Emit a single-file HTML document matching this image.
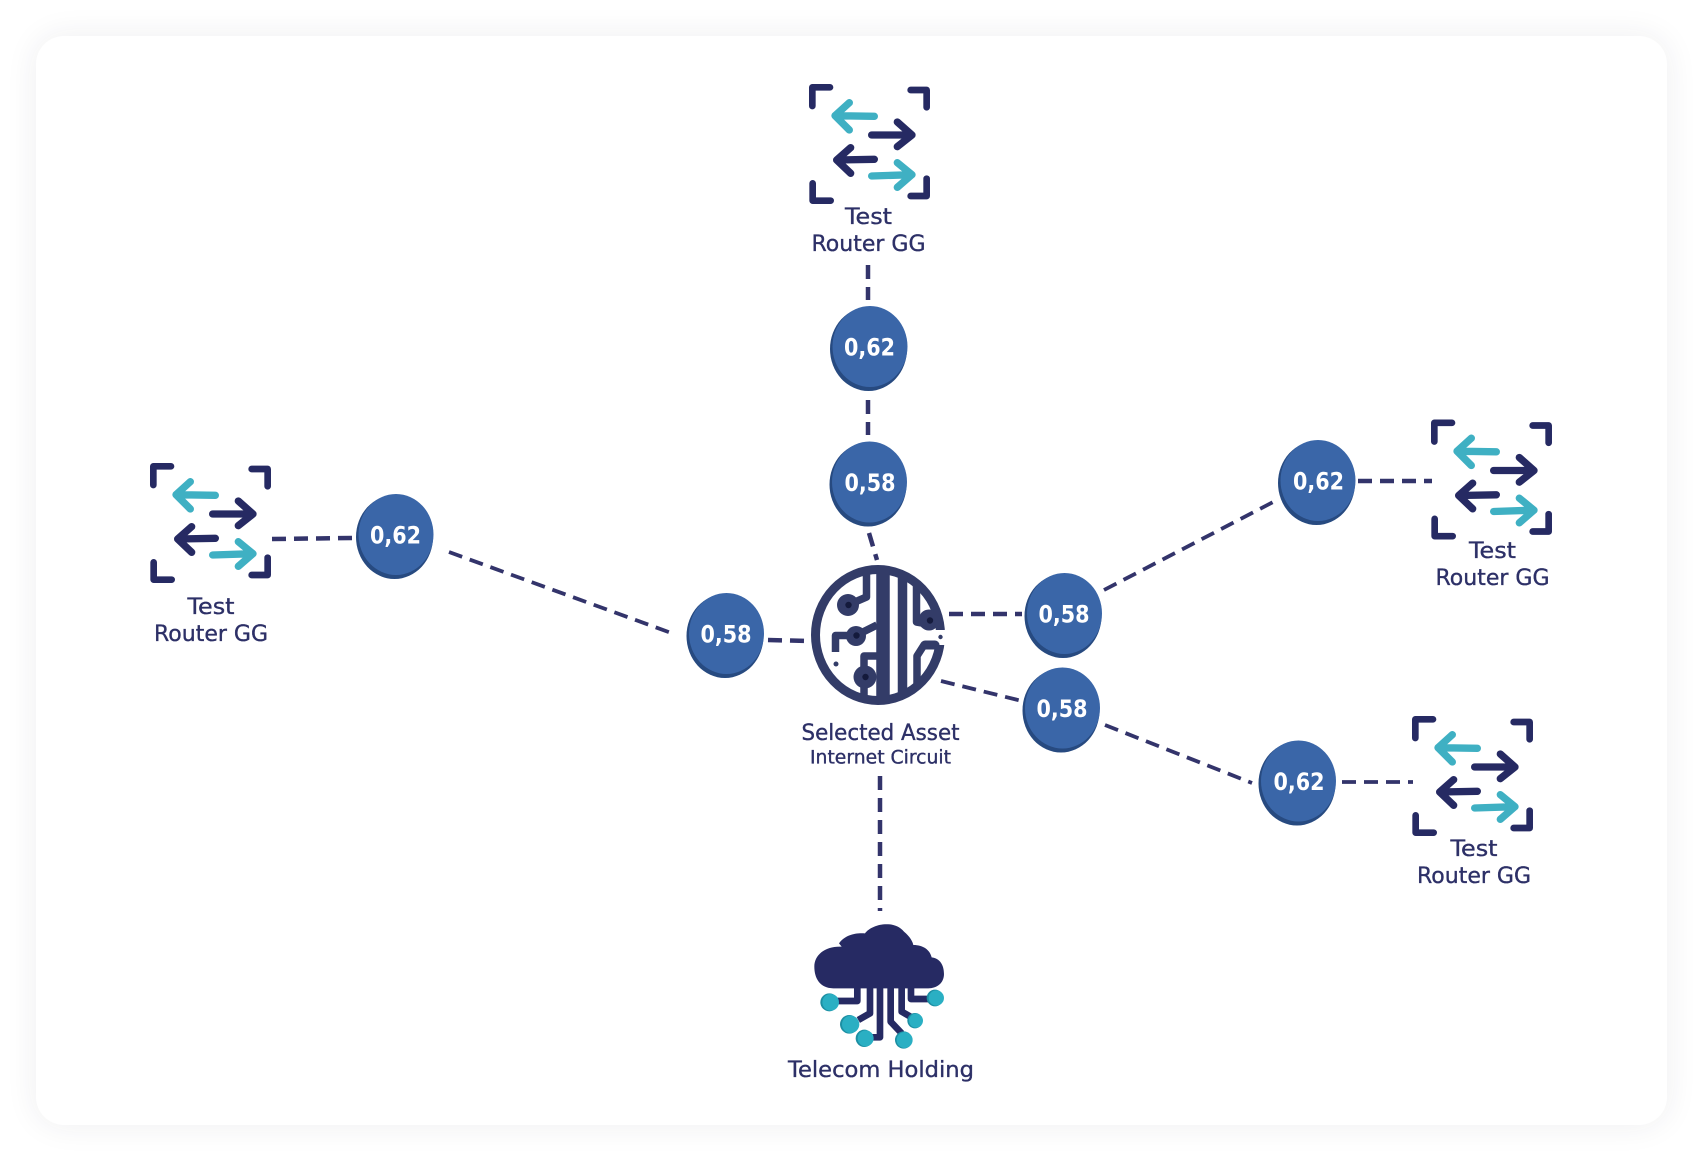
<!DOCTYPE html>
<html><head><meta charset="utf-8">
<style>
html,body{margin:0;padding:0;background:#fff}
body{width:1704px;height:1162px;position:relative;overflow:hidden}
#card{position:absolute;left:36px;top:36px;width:1631px;height:1089px;background:#fff;border-radius:28px;box-shadow:0 0 32px rgba(40,40,70,.08)}
svg{position:absolute;left:0;top:0}
text{font-family:"DejaVu Sans","Liberation Sans",sans-serif}
.lb{fill:#2d3067;font-size:22px;text-anchor:middle;stroke:#2d3067;stroke-width:.35}
.v{fill:#fff;font-size:24px;font-weight:bold;text-anchor:middle}
.d{stroke:#33346b;stroke-width:4.5;stroke-dasharray:14 8;fill:none}
.t{stroke-width:3.8}
</style></head><body>
<div id="card"></div>
<svg width="1704" height="1162" viewBox="0 0 1704 1162">
<defs>
<g id="router" fill="none" stroke-linecap="round" stroke-linejoin="round" transform="translate(780 60) scale(.3333)">
<g stroke="#262a63" stroke-width="20">
<path d="M97 138V82H150M392 90H440V142M98 370V422H152M392 408H440V356"/>
<path stroke-width="22" d="M275 225H395M352 186L396 225L352 260M283 298L170 300M212 263L170 300L212 340"/>
</g>
<g stroke="#3fb0c3" stroke-width="22">
<path d="M283 169L165 167M208 128L165 167L208 210M275 348L395 344M352 308L396 344L352 382"/>
</g>
</g>
<g id="node">
<ellipse cx="-1" cy="1.5" rx="38.5" ry="42" fill="#274a80"/>
<ellipse cx=".5" cy="-1" rx="37.5" ry="40.5" fill="#3a66a8"/>
</g>
</defs>

<path class="d" d="M868 265V300"/>
<path class="d" d="M868 400V435"/>
<path class="d" d="M869 533L877 560"/>
<path class="d" d="M272 539L353 538"/>
<path class="d t" d="M449 552L674 634"/>
<path class="d" d="M768 640L810 641"/>
<path class="d" d="M949 614H1022"/>
<path class="d t" d="M1104 590L1277 500"/>
<path class="d" d="M1358 481H1432"/>
<path class="d t" d="M941 681L1022 701"/>
<path class="d t" d="M1105 725L1252 783"/>
<path class="d t" d="M1342 782H1413"/>
<path class="d" d="M880 776V911"/>

<use href="#router"/>
<use href="#router" x="-659" y="379"/>
<use href="#router" x="622" y="335.5"/>
<use href="#router" x="603" y="632"/>

<g>
<text class="lb" x="868.5" y="224" textLength="47" lengthAdjust="spacingAndGlyphs">Test</text>
<text class="lb" x="868.5" y="251" textLength="114" lengthAdjust="spacingAndGlyphs">Router GG</text>
<text class="lb" x="211" y="614" textLength="47" lengthAdjust="spacingAndGlyphs">Test</text>
<text class="lb" x="211" y="641" textLength="114" lengthAdjust="spacingAndGlyphs">Router GG</text>
<text class="lb" x="1492.5" y="558" textLength="47" lengthAdjust="spacingAndGlyphs">Test</text>
<text class="lb" x="1492.5" y="585" textLength="114" lengthAdjust="spacingAndGlyphs">Router GG</text>
<text class="lb" x="1474" y="856" textLength="47" lengthAdjust="spacingAndGlyphs">Test</text>
<text class="lb" x="1474" y="883" textLength="114" lengthAdjust="spacingAndGlyphs">Router GG</text>
<text class="lb" x="880.5" y="740" textLength="158" lengthAdjust="spacingAndGlyphs">Selected Asset</text>
<text class="lb" style="font-size:18.5px" x="880.5" y="763.5" textLength="141" lengthAdjust="spacingAndGlyphs">Internet Circuit</text>
<text class="lb" x="881" y="1077" textLength="186" lengthAdjust="spacingAndGlyphs">Telecom Holding</text>
</g>

<g transform="translate(869.5 347.5)"><use href="#node"/><text class="v" x="0" y="8" textLength="51" lengthAdjust="spacingAndGlyphs">0,62</text></g>
<g transform="translate(869 483)"><use href="#node"/><text class="v" x="1" y="8" textLength="51" lengthAdjust="spacingAndGlyphs">0,58</text></g>
<g transform="translate(1317.5 481.5)"><use href="#node"/><text class="v" x="1" y="8" textLength="51" lengthAdjust="spacingAndGlyphs">0,62</text></g>
<g transform="translate(395.5 535.5)"><use href="#node"/><text class="v" x="0" y="8" textLength="51" lengthAdjust="spacingAndGlyphs">0,62</text></g>
<g transform="translate(726 634.5)"><use href="#node"/><text class="v" x="0" y="8" textLength="51" lengthAdjust="spacingAndGlyphs">0,58</text></g>
<g transform="translate(1064 614.5)"><use href="#node"/><text class="v" x="0" y="8" textLength="51" lengthAdjust="spacingAndGlyphs">0,58</text></g>
<g transform="translate(1062 709)"><use href="#node"/><text class="v" x="0" y="8" textLength="51" lengthAdjust="spacingAndGlyphs">0,58</text></g>
<g transform="translate(1298 782)"><use href="#node"/><text class="v" x="1" y="8" textLength="51" lengthAdjust="spacingAndGlyphs">0,62</text></g>

<!-- circuit -->
<g fill="none" stroke="#333c68" stroke-linejoin="round">
<ellipse cx="878" cy="635" rx="62.5" ry="65.5" stroke-width="9"/>
<rect x="933" y="630" width="18" height="15" fill="#fff" stroke="none"/>
<path stroke-width="13.5" d="M883 568V702"/>
<path stroke-width="9.5" d="M902.5 574V696"/>
<path stroke-width="7.5" d="M866.5 572V597L848 605M877 625L856 635.5H835.5V652M880 656H864V696M916.5 586V622L928 624M930 645H924L917 656V688"/>
<path stroke-width="9" stroke-linecap="round" d="M925 645H935"/>
<circle cx="848" cy="605" r="11" fill="#333c68" stroke="none"/>
<circle cx="856" cy="636" r="10" fill="#333c68" stroke="none"/>
<circle cx="865" cy="677" r="11.5" fill="#333c68" stroke="none"/>
<circle cx="929" cy="620" r="10.5" fill="#333c68" stroke="none"/>
<g fill="#141a3c" stroke="none">
<circle cx="848.5" cy="605" r="3.2"/><circle cx="856.5" cy="635.5" r="3.2"/><circle cx="865.5" cy="677" r="3.2"/><circle cx="930" cy="620.5" r="3.2"/>
</g>
<circle cx="836" cy="664" r="2.5" fill="#333c68" stroke="none"/>
<circle cx="940.5" cy="637" r="2.2" fill="#333c68" stroke="none"/>
</g>

<!-- cloud -->
<g transform="translate(770 900) scale(.3333)">
<path fill="#262a63" d="M190 265C150 265 133 235 133 200C133 165 165 138 215 140L207 130C225 105 255 98 285 100C305 72 372 58 402 95C420 110 428 125 430 135C460 135 480 150 485 172C510 175 522 195 522 222C522 250 500 265 475 265Z"/>
<g fill="none" stroke="#262a63" stroke-width="20" stroke-linejoin="round">
<path d="M262 262V303H195M300 262V340L265 360M330 262V412H300M362 262V365L395 400M395 262V335L430 355M423 262V297H480"/>
</g>
<g fill="#1c8fa3">
<circle cx="178" cy="307" r="27"/><circle cx="238" cy="373" r="28"/><circle cx="283" cy="415" r="26"/><circle cx="401" cy="420" r="26"/><circle cx="435" cy="362" r="23"/><circle cx="495" cy="294" r="25"/>
</g>
<g fill="#2aafc3">
<circle cx="182" cy="307" r="25"/><circle cx="242" cy="373" r="26"/><circle cx="287" cy="415" r="24"/><circle cx="404" cy="420" r="24"/><circle cx="438" cy="362" r="21"/><circle cx="499" cy="294" r="23"/>
</g>
</g>
</svg>
</body></html>
